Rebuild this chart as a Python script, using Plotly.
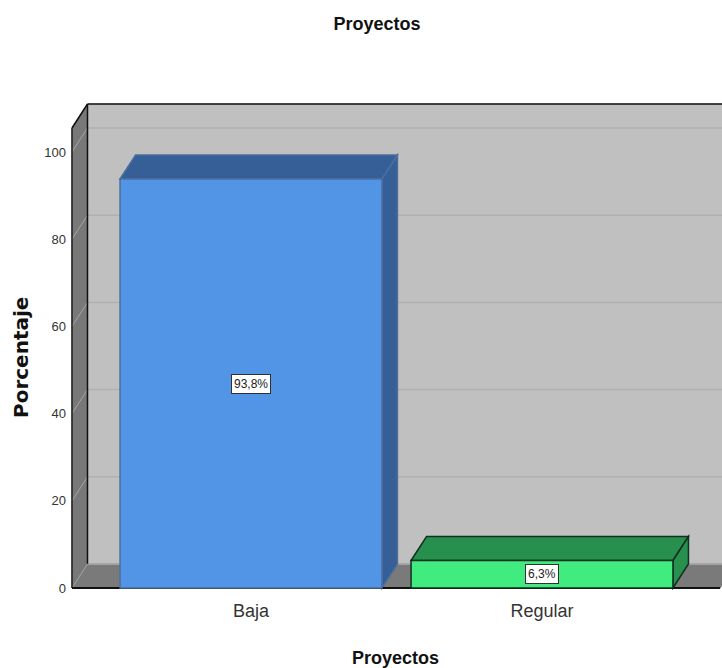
import plotly.graph_objects as go

categories = ["Baja", "Regular"]
values = [93.8, 6.3]
labels = ["93,8%", "6,3%"]
y_ticks = [0, 20, 40, 60, 80, 100]
front_colors = ["#5294E6", "#40EB7F"]
side_colors = ["#355F96", "#27904F"]
edge_colors = ["#4A6F9F", "#12301F"]

W, H = 722, 668
LEFT_PX, TOP_PX, BOTTOM_PX = 67, 102, 590
L, R, T, B = LEFT_PX, 0, TOP_PX, H - BOTTOM_PX
PX_X = 291.0      # pixels per category
PX_Y = 4.36       # pixels per percent
BAR_W = 0.9
DX = 15.5 / PX_X  # depth of the 3-D box in data units
DY = 24 / PX_Y

x0 = (LEFT_PX - 251) / PX_X
x1 = (W - 251) / PX_X
y0 = -2 / PX_Y
y1 = (588 - TOP_PX) / PX_Y
wall_top = 105.5
x_right = 1.612


def poly(pts, fill, line=None, width=1):
    path = "M" + " L".join(f"{a},{b}" for a, b in pts) + " Z"
    return dict(type="path", xref="x", yref="y", path=path, fillcolor=fill,
                line=dict(color=line or fill, width=width), layer="below")


def seg(a, b, c, d, color, width=1):
    return dict(type="line", xref="x", yref="y", x0=a, y0=b, x1=c, y1=d,
                line=dict(color=color, width=width), layer="below")


xl = (72 - 251) / PX_X
shapes = [
    poly([(xl + DX, DY), (xl + DX, wall_top + DY), (x1 + 1, wall_top + DY), (x1 + 1, DY)], "#C0C0C0"),
    poly([(xl, 0), (xl, wall_top), (xl + DX, wall_top + DY), (xl + DX, DY)], "#787878"),
    poly([(xl, 0), (xl + DX, DY), (x_right + DX, DY), (x_right, 0)], "#7A7A7A"),
]
for t in y_ticks:
    shapes.append(seg(xl + DX, t + DY, x1 + 1, t + DY, "#B0B0B0", 1.5))
    shapes.append(seg(xl, t, xl + DX, t + DY, "#A5A5A5", 1))
shapes += [
    seg(xl, 0, xl, wall_top, "#202020", 1.5),
    seg(xl, wall_top, xl + DX, wall_top + DY, "#101010", 1.5),
    seg(xl + DX, DY, xl + DX, wall_top + DY, "#101010", 1.5),
    seg(xl + DX, wall_top + DY, x1 + 1, wall_top + DY, "#101010", 1.5),
    seg(xl + DX, DY, x1 + 1, DY, "#A0A0A0", 1),
]
for i, v in enumerate(values):
    a, b = i - BAR_W / 2, i + BAR_W / 2
    shapes.append(poly([(a, v), (a + DX, v + DY), (b + DX, v + DY), (b, v)], side_colors[i], edge_colors[i], 1.5))
    shapes.append(poly([(b, 0), (b + DX, DY), (b + DX, v + DY), (b, v)], side_colors[i], edge_colors[i], 1.5))
shapes.append(seg(xl, 0, x_right, 0, "#101010", 2))

fig = go.Figure(go.Bar(
    x=[0, 1], y=values, width=BAR_W,
    marker=dict(color=front_colors, line=dict(color=edge_colors, width=1.5)),
    hoverinfo="skip", showlegend=False,
))

annotations = [
    dict(x=i, y=v / 2, xref="x", yref="y", text=labels[i], showarrow=False,
         bgcolor="white", bordercolor="#303030", borderwidth=1, borderpad=2,
         font=dict(family="Liberation Sans", size=12, color="#222222"))
    for i, v in enumerate(values)
]
annotations.append(dict(
    x=(395 - 251) / PX_X, xref="x", y=0, yref="paper", yanchor="middle",
    yshift=-(658 - BOTTOM_PX), text="<b>Proyectos</b>", showarrow=False,
    font=dict(family="Liberation Sans", size=18, color="#111111")))
annotations.append(dict(
    x=0, xref="paper", xanchor="center", xshift=21 - LEFT_PX,
    y=(588 - 358) / PX_Y, yref="y", yanchor="middle", textangle=-90,
    text="<b>Porcentaje</b>", showarrow=False,
    font=dict(family="DejaVu Sans", size=20, color="#111111")))

fig.update_layout(
    width=W, height=H, autosize=False,
    margin=dict(l=L, r=R, t=T, b=B),
    paper_bgcolor="white", plot_bgcolor="white",
    bargap=0.1,
    title=dict(text="Proyectos", x=377 / W, xanchor="center", y=1 - 24 / H, yanchor="middle",
               font=dict(family="Liberation Sans", size=18, weight=700, color="#111111")),
    xaxis=dict(range=[x0, x1], tickmode="array", tickvals=[0, 1], ticktext=categories,
               showgrid=False, zeroline=False, showline=False, ticks="", ticklabelstandoff=8,
               tickfont=dict(family="Liberation Sans", size=18, color="#333333")),
    yaxis=dict(range=[y0, y1], tickmode="array", tickvals=y_ticks,
               showgrid=False, zeroline=False, showline=False, ticks="",
               tickfont=dict(family="Liberation Sans", size=13, color="#333333")),
    shapes=shapes,
    annotations=annotations,
)

fig.write_html("out.html", config={"displayModeBar": False},
               post_script="document.body.style.margin='0';")
